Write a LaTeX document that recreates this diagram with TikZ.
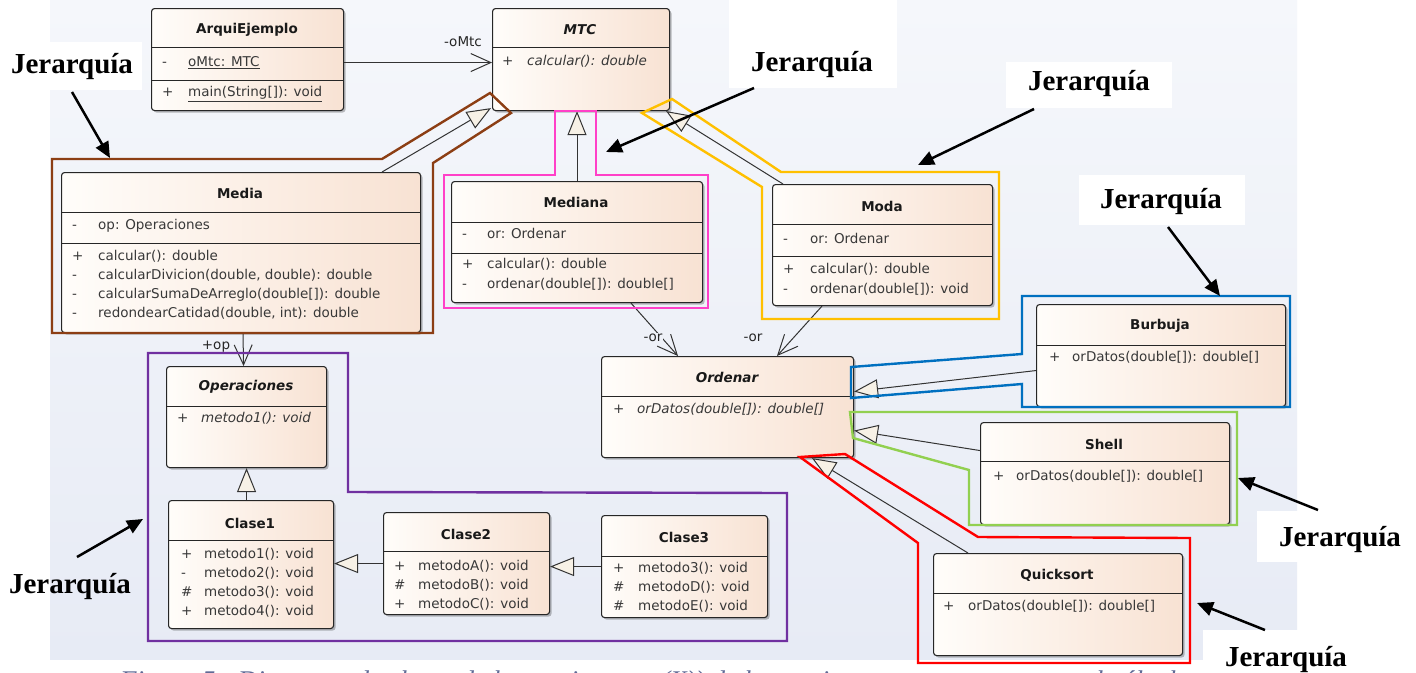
\documentclass[tikz,border=0pt]{standalone}
\usepackage{fontspec}
\setmainfont{DejaVu Sans}
\newfontfamily\jerf{Liberation Serif}
\usetikzlibrary{arrows.meta,shadows,calc}
\definecolor{bgtop}{RGB}{245,247,251}
\definecolor{bgbot}{RGB}{231,235,245}
\definecolor{bgmid}{RGB}{238,241,248}
\definecolor{boxl}{RGB}{255,253,250}
\definecolor{boxr}{RGB}{248,226,211}
\definecolor{tri}{RGB}{247,241,230}
\definecolor{cbrown}{RGB}{140,62,20}
\definecolor{cpink}{RGB}{255,64,200}
\definecolor{cyellow}{RGB}{255,192,0}
\definecolor{cblue}{RGB}{0,112,192}
\definecolor{cgreen}{RGB}{146,208,80}
\definecolor{cred}{RGB}{255,0,0}
\definecolor{cpurple}{RGB}{112,48,160}
\definecolor{captc}{RGB}{96,106,150}
\definecolor{membc}{RGB}{56,56,56}
\newcommand\umlfont{\fontsize{13.5}{16}\selectfont}
\newcommand\umem[6]{\node[msym] (#1s) at (#2,#4) {#5};\node[mtxt] (#1t) at (#3,#4) {#6};}
\begin{document}
\begin{tikzpicture}[x=1pt,y=-1pt,
  cls/.style={draw=black!85, line width=1.1pt, rounded corners=3pt, left color=boxl, right color=boxr,
    anchor=north west, inner sep=0, drop shadow={shadow xshift=2pt,shadow yshift=-2pt,opacity=0.25,fill=black}},
  sepl/.style={draw=black!85, line width=1pt},
  msym/.style={anchor=west, inner sep=0, text height=10pt, text depth=3pt, font=\umlfont, text=membc},
  mtxt/.style={anchor=west, inner sep=0, text height=10pt, text depth=3pt, font=\umlfont, text=membc},
  ttl/.style={inner sep=0, font=\umlfont\bfseries, text=black!90},
  lbl/.style={inner sep=1pt, font=\umlfont, text=black!85},
  gen/.style={draw=black!80, line width=1pt, -{Triangle[length=24pt,width=19pt,fill=tri]}},
  assoc/.style={draw=black!80, line width=1pt, -{Straight Barb[length=20pt,width=18pt]}},
  outl/.style={line width=2.4pt, line join=miter},
  jer/.style={inner sep=0, text height=20pt, text depth=7pt, font=\jerf\bfseries\fontsize{29}{32}\selectfont},
  jarrow/.style={line width=2.5pt, -{Triangle[length=16pt,width=14pt]}}
]
\useasboundingbox (0,0) rectangle (1416,672);
\fill[white] (0,0) rectangle (1416,672);
\shade[top color=bgtop,bottom color=bgbot] (50,0) rectangle (1297,659);

% caption (cut off by the page edge, as in the reference)
\node[anchor=base west, inner sep=0, text=captc, font=\jerf\itshape\fontsize{27}{30}\selectfont] (cap) at (120,689)
  {Figura 5.- Diagrama de clases de la arquitectura (X)) de la arquitectura propuesta para el cálculo};

% ---------- class boxes ----------
\node[cls,minimum width=192pt,minimum height=102pt] (arq) at (151,8) {};
\draw[sepl] (arq.west |- 0,47) -- (arq.east |- 0,47);
\draw[sepl] (arq.west |- 0,80) -- (arq.east |- 0,80);
\node[ttl] (arqT) at (247,30) {ArquiEjemplo};
\umem{arq1}{162}{188}{63}{-}{\underline{oMtc: MTC}}
\umem{arq2}{162}{188}{93}{+}{\underline{main(String[]): void}}

\node[cls,minimum width=177pt,minimum height=102pt] (mtc) at (492,8) {};
\draw[sepl] (mtc.west |- 0,47) -- (mtc.east |- 0,47);
\node[ttl,font=\umlfont\bfseries\itshape] (mtcT) at (580,30) {MTC};
\umem{mtc1}{502}{527}{62}{+}{\itshape calcular(): double}

\node[cls,minimum width=359pt,minimum height=160pt] (media) at (61,172) {};
\draw[sepl] (media.west |- 0,212) -- (media.east |- 0,212);
\draw[sepl] (media.west |- 0,243) -- (media.east |- 0,243);
\node[ttl] (mediaT) at (240,193) {Media};
\umem{me1}{72}{98}{226}{-}{op: Operaciones}
\umem{me2}{72}{98}{257}{+}{calcular(): double}
\umem{me3}{72}{98}{276}{-}{calcularDivicion(double, double): double}
\umem{me4}{72}{98}{295}{-}{calcularSumaDeArreglo(double[]): double}
\umem{me5}{72}{98}{314}{-}{redondearCatidad(double, int): double}

\node[cls,minimum width=251pt,minimum height=121pt] (mediana) at (451,181) {};
\draw[sepl] (mediana.west |- 0,222) -- (mediana.east |- 0,222);
\draw[sepl] (mediana.west |- 0,253) -- (mediana.east |- 0,253);
\node[ttl] (medianaT) at (576,202) {Mediana};
\umem{mn1}{462}{487}{235}{-}{or: Ordenar}
\umem{mn2}{462}{487}{265}{+}{calcular(): double}
\umem{mn3}{462}{487}{285}{-}{ordenar(double[]): double[]}

\node[cls,minimum width=220pt,minimum height=121pt] (moda) at (772,184) {};
\draw[sepl] (moda.west |- 0,224) -- (moda.east |- 0,224);
\draw[sepl] (moda.west |- 0,256) -- (moda.east |- 0,256);
\node[ttl] (modaT) at (882,206) {Moda};
\umem{mo1}{783}{810}{240}{-}{or: Ordenar}
\umem{mo2}{783}{810}{270}{+}{calcular(): double}
\umem{mo3}{783}{810}{290}{-}{ordenar(double[]): void}

\node[cls,minimum width=252pt,minimum height=101pt] (ordenar) at (601,356) {};
\draw[sepl] (ordenar.west |- 0,396) -- (ordenar.east |- 0,396);
\node[ttl,font=\umlfont\bfseries\itshape] (ordenarT) at (727,377) {Ordenar};
\umem{or1}{613}{637}{410}{+}{\itshape orDatos(double[]): double[]}

\node[cls,minimum width=249pt,minimum height=102pt] (burbuja) at (1036,304) {};
\draw[sepl] (burbuja.west |- 0,345) -- (burbuja.east |- 0,345);
\node[ttl] (burbujaT) at (1160,326) {Burbuja};
\umem{bu1}{1049}{1072}{358}{+}{orDatos(double[]): double[]}

\node[cls,minimum width=249pt,minimum height=102pt] (shell) at (980,422) {};
\draw[sepl] (shell.west |- 0,461) -- (shell.east |- 0,461);
\node[ttl] (shellT) at (1104,444) {Shell};
\umem{sh1}{993}{1016}{477}{+}{orDatos(double[]): double[]}

\node[cls,minimum width=249pt,minimum height=102pt] (quick) at (933,553) {};
\draw[sepl] (quick.west |- 0,593) -- (quick.east |- 0,593);
\node[ttl] (quickT) at (1057,575) {Quicksort};
\umem{qu1}{943}{968}{607}{+}{orDatos(double[]): double[]}

\node[cls,minimum width=160pt,minimum height=101pt] (oper) at (166,366) {};
\draw[sepl] (oper.west |- 0,406) -- (oper.east |- 0,406);
\node[ttl,font=\umlfont\bfseries\itshape] (operT) at (246,387) {Operaciones};
\umem{op1}{177}{201}{419}{+}{\itshape metodo1(): void}

\node[cls,minimum width=165pt,minimum height=128pt] (clase1) at (168,500) {};
\draw[sepl] (clase1.west |- 0,540) -- (clase1.east |- 0,540);
\node[ttl] (clase1T) at (250,523) {Clase1};
\umem{c11}{181}{204}{555}{+}{metodo1(): void}
\umem{c12}{181}{204}{574}{-}{metodo2(): void}
\umem{c13}{181}{204}{593}{\#}{metodo3(): void}
\umem{c14}{181}{204}{612}{+}{metodo4(): void}

\node[cls,minimum width=166pt,minimum height=102pt] (clase2) at (383,512) {};
\draw[sepl] (clase2.west |- 0,551) -- (clase2.east |- 0,551);
\node[ttl] (clase2T) at (466,534) {Clase2};
\umem{c21}{394}{418}{567}{+}{metodoA(): void}
\umem{c22}{394}{418}{586}{\#}{metodoB(): void}
\umem{c23}{394}{418}{605}{+}{metodoC(): void}

\node[cls,minimum width=166pt,minimum height=102pt] (clase3) at (601,515) {};
\draw[sepl] (clase3.west |- 0,556) -- (clase3.east |- 0,556);
\node[ttl] (clase3T) at (684,537) {Clase3};
\umem{c31}{613}{638}{569}{+}{metodo3(): void}
\umem{c32}{613}{638}{588}{\#}{metodoD(): void}
\umem{c33}{613}{638}{607}{\#}{metodoE(): void}

% ---------- connectors ----------
\draw[assoc] ([yshift=-3pt]arq.east) -- ([yshift=-3pt]mtc.west);
\node[lbl] (lomtc) at (463,42) {-oMtc};
\draw[gen] ([xshift=321pt]media.north west) -- ([xshift=-1pt,yshift=3pt]mtc.south west);
\coordinate (mdt) at ([xshift=126pt]mediana.north west);
\draw[gen] (mdt) -- (mdt |- mtc.south);
\draw[gen] ([xshift=11pt]moda.north west) -- ([xshift=-4pt]mtc.south east);
\draw[assoc] ([xshift=182pt]media.south west) -- ([xshift=-3pt]oper.north);
\node[lbl] (lop) at (216,347) {+op};
\draw[assoc] ([xshift=180pt]mediana.south west) -- ([xshift=77pt]ordenar.north west);
\node[lbl,fill=bgmid] (lor1) at (653,338) {-or};
\draw[assoc] ([xshift=50pt]moda.south west) -- ([xshift=176pt]ordenar.north west);
\node[lbl] (lor2) at (753,338) {-or};
\draw[gen] ([yshift=-15pt]burbuja.west) -- ([yshift=15.5pt]ordenar.east);
\draw[gen] ([yshift=23pt]shell.west) -- ([yshift=-23.5pt]ordenar.east);
\draw[gen] ([xshift=35pt]quick.north west) -- ([xshift=211pt]ordenar.south west);
\draw[gen] (oper.south |- clase1.north) -- (oper.south);
\draw[gen] (clase2.west) -- (clase2.west -| clase1.east);
\draw[gen] (clase3.west) -- (clase3.west -| clase2.east);

% ---------- hierarchy outlines ----------
\draw[outl,cbrown] (52,159) -- (382,159) -- (490,93) -- (511,113) -- (433,163) -- (433,333) -- (52,333) -- cycle;
\draw[outl,cpink] (444,175) -- (555,175) -- (555,111) -- (596,111) -- (596,175) -- (708,175) -- (708,308) -- (444,308) -- cycle;
\draw[outl,cyellow] (642,113) -- (672,99) -- (781,172) -- (999,172) -- (999,319) -- (762,319) -- (762,187) -- cycle;
\draw[outl,cblue] (851,367) -- (1022,354) -- (1022,296) -- (1290,296) -- (1290,407) -- (1022,407) -- (1022,384) -- (851,398) -- cycle;
\draw[outl,cgreen] (850,412) -- (1237,412) -- (1237,525) -- (969,525) -- (969,470) -- (853,438) -- cycle;
\draw[outl,cred] (800,457) -- (845,454) -- (978,537) -- (1190,538) -- (1190,663) -- (918,663) -- (918,543) -- cycle;
\draw[outl,cpurple] (148,353) -- (348,353) -- (348,492) -- (787,493) -- (787,641) -- (148,641) -- cycle;

% ---------- Jerarquia labels ----------
\fill[white] (0,42) rectangle (142,90);
\fill[white] (729,0) rectangle (897,88);
\fill[white] (1006,62) rectangle (1172,108);
\fill[white] (1079,175) rectangle (1245,225);
\fill[white] (1257,511) rectangle (1416,562);
\fill[white] (1203,630) rectangle (1416,672);

\node[jer] (J1) at (72,67) {Jerarquía};
\node[jer] (J2) at (812,65) {Jerarquía};
\node[jer] (J3) at (1089,84) {Jerarquía};
\node[jer] (J4) at (1161,202) {Jerarquía};
\node[jer] (J5) at (1340,540) {Jerarquía};
\node[jer] (J6) at (1286,660) {Jerarquía};
\node[jer] (J7) at (70,587) {Jerarquía};

\coordinate (t1) at (110,158);
\coordinate (t2) at (606,152);
\coordinate (t3) at (918,165);
\coordinate (t4) at (1220,296);
\coordinate (t5) at (1238,478);
\coordinate (t6) at (1197,603);
\coordinate (t7) at (143,519);
\draw[jarrow] ($(J1)+(0,25)$) -- (t1);
\draw[jarrow] ($(J2)+(-58,23)$) -- (t2);
\draw[jarrow] ($(J3)+(-55,25)$) -- (t3);
\draw[jarrow] ($(J4)+(7,25)$) -- (t4);
\draw[jarrow] ($(J5)+(-22,-30)$) -- (t5);
\draw[jarrow] ($(J6)+(-21,-30)$) -- (t6);
\draw[jarrow] ($(J7)+(7,-30)$) -- (t7);
\end{tikzpicture}
\end{document}
